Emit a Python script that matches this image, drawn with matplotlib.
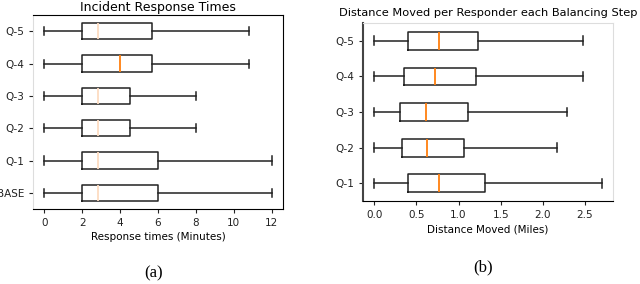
import matplotlib
matplotlib.use("Agg")
import matplotlib.pyplot as plt

# (a) incident response times, bottom to top
resp_labels = ["BASE", "Q-1", "Q-2", "Q-3", "Q-4", "Q-5"]
resp_lo = [0, 0, 0, 0, 0, 0]
resp_q1 = [2, 2, 2, 2, 2, 2]
resp_med = [2.85, 2.85, 2.85, 2.85, 4.0, 2.85]
resp_q3 = [6, 6, 4.5, 4.5, 5.7, 5.7]
resp_hi = [12, 12, 8, 8, 10.8, 10.8]

# (b) distance moved per responder, bottom to top
dist_labels = ["Q-1", "Q-2", "Q-3", "Q-4", "Q-5"]
dist_lo = [0, 0, 0, 0, 0]
dist_q1 = [0.40, 0.33, 0.31, 0.35, 0.40]
dist_med = [0.77, 0.63, 0.61, 0.72, 0.77]
dist_q3 = [1.31, 1.07, 1.11, 1.21, 1.23]
dist_hi = [2.70, 2.17, 2.29, 2.48, 2.48]


def stats(labels, lo, q1, med, q3, hi):
    return [dict(label=l, whislo=a, q1=b, med=c, q3=d, whishi=e, fliers=[])
            for l, a, b, c, d, e in zip(labels, lo, q1, med, q3, hi)]


def draw(ax, st, med_colors):
    bp = ax.bxp(st, vert=False, showfliers=False,
                boxprops=dict(color="#222222", lw=1.1),
                whiskerprops=dict(color="#222222", lw=1.1),
                capprops=dict(color="#222222", lw=1.1),
                medianprops=dict(lw=1.3))
    for line, c in zip(bp["medians"], med_colors):
        line.set_color(c)
    ax.tick_params(labelsize=7.5, length=3, width=0.8, colors="#222222")
    ax.margins(x=0.05)
    return bp


plt.rcParams["font.family"] = "DejaVu Sans"
fig = plt.figure(figsize=(6.4, 2.84), dpi=100)

ax1 = fig.add_axes([0.0516, 0.264, 0.3906, 0.683])
draw(ax1, stats(resp_labels, resp_lo, resp_q1, resp_med, resp_q3, resp_hi),
     ["#fddcc2", "#fddcc2", "#fddcc2", "#fddcc2", "#ff7f0e", "#fddcc2"])
ax1.set_xticks([0, 2, 4, 6, 8, 10, 12])
ax1.set_title("Incident Response Times", fontsize=9, pad=3)
ax1.set_xlabel("Response times (Minutes)", fontsize=7.5, labelpad=3)
ax1.spines["left"].set_color("#dddddd")

ax2 = fig.add_axes([0.567, 0.292, 0.391, 0.627])
draw(ax2, stats(dist_labels, dist_lo, dist_q1, dist_med, dist_q3, dist_hi),
     ["#ff7f0e"] * 5)
ax2.set_xticks([0.0, 0.5, 1.0, 1.5, 2.0, 2.5])
ax2.set_title("Distance Moved per Responder each Balancing Step", fontsize=8.2, pad=5)
ax2.set_xlabel("Distance Moved (Miles)", fontsize=7.5, labelpad=3)
ax2.spines["top"].set_color("#dddddd")
ax2.spines["right"].set_color("#dddddd")
ax2.spines["left"].set_linewidth(1.5)
ax2.spines["left"].set_color("#444444")

fig.text(154 / 640, 1 - 273 / 284, "(a)", ha="center", va="center",
         fontsize=12, family="Liberation Serif")
fig.text(483 / 640, 1 - 267 / 284, "(b)", ha="center", va="center",
         fontsize=12, family="Liberation Serif")

fig.savefig("out.png", dpi=100)
